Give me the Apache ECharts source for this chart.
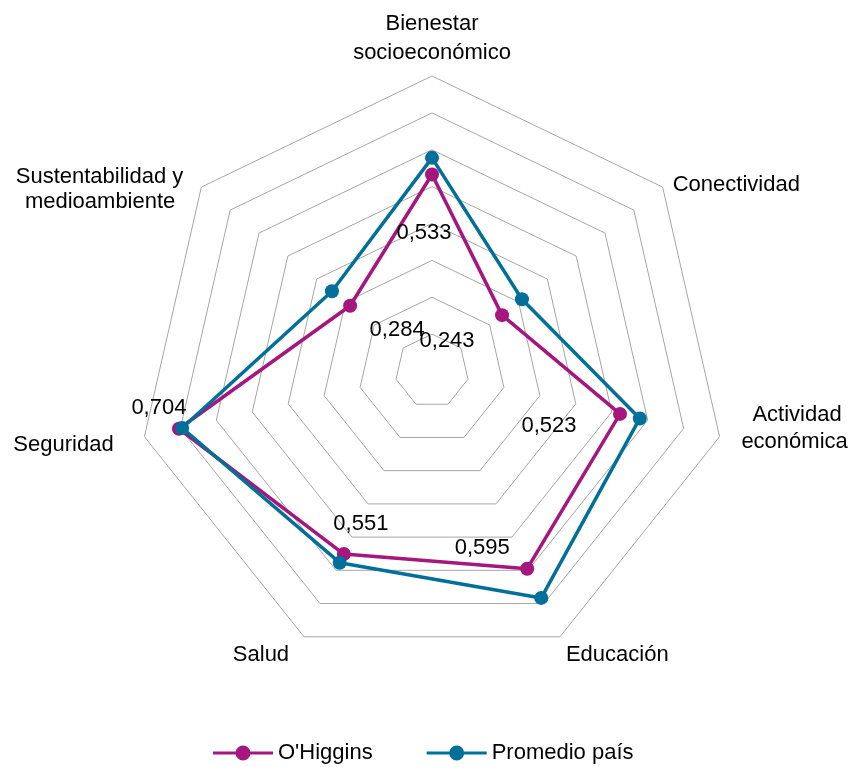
<!DOCTYPE html>
<html>
<head>
<meta charset="utf-8">
<script src="https://cdn.jsdelivr.net/npm/echarts@6/dist/echarts.min.js"></script>
<style>
  html, body { margin: 0; padding: 0; background: #fff; }
  #chart { width: 854px; height: 767px; }
</style>
</head>
<body>
<div id="chart"></div>
<script>
// Dimensions, listed clockwise starting at the top
const categories = [
  'Bienestar\nsocioeconómico',
  'Conectividad',
  'Actividad\neconómica',
  'Educación',
  'Salud',
  'Seguridad',
  'Sustentabilidad y\nmedioambiente'
];
const ohiggins = [0.533, 0.243, 0.523, 0.595, 0.551, 0.704, 0.284];
const promedioPais = [0.578, 0.312, 0.578, 0.683, 0.577, 0.695, 0.347];
const seriesNames = ["O'Higgins", 'Promedio país'];
const axisMax = 0.8;

// Pixel offsets of each O'Higgins value label from its point
const labelOffsets = [[-8, 58], [-55, 26], [-71, 12], [-45, -21], [17, -30], [-20, -21], [47, 24]];

// Axis-name line layout: padding [top, right, bottom, left] and line height of each line,
// plus optional blank spacer lines above / below (height in px)
const nameLayout = [
  { lines: [[[0, 0, 0, 0], 29], [[0, 0, 0, 0], 29]] },
  { lines: [[[7, 0, 0, 3], 29]] },
  { lines: [[[0, 0, 0, 24], 27], [[0, 0, 0, 13], 27]], below: 20 },
  { lines: [[[20, 0, 0, 2], 29]] },
  { lines: [[[20, 11, 0, 0], 29]] },
  { lines: [[[13, 22, 0, 0], 29]] },
  { lines: [[[0, 11, 0, 0], 25], [[0, 19, 0, 0], 25]], above: 16 }
];

const colors = ['#A5177F', '#00709A'];
const FONT = '"Liberation Sans", Arial, sans-serif';

// ECharts lays indicators out counter-clockwise; reorder so they run clockwise
const ccw = arr => [arr[0]].concat(arr.slice(1).reverse());

const fmt = v => v.toFixed(3).replace('.', ',');

const legendIcon = 'path://M0,6L60,6L60,9L0,9Z M37.5,7.5A7.5,7.5 0 1 1 22.5,7.5A7.5,7.5 0 1 1 37.5,7.5Z';

// Rich-text styles for the axis names
const nameRich = {};
nameLayout.forEach((cfg, i) => {
  cfg.lines.forEach(([pad, lh], j) => {
    nameRich['n' + i + '_' + j] = {
      color: '#000', fontSize: 22, fontFamily: FONT, lineHeight: lh, padding: pad
    };
  });
  if (cfg.above) nameRich['a' + i] = { fontSize: 1, lineHeight: cfg.above, height: cfg.above };
  if (cfg.below) nameRich['b' + i] = { fontSize: 1, lineHeight: cfg.below, height: cfg.below };
});

const lineSeries = [ohiggins, promedioPais].map((vals, i) => ({
  name: seriesNames[i],
  type: 'radar',
  symbol: 'circle',
  symbolSize: 14,
  z: 2 + i,
  lineStyle: { color: colors[i], width: 3.5 },
  itemStyle: { color: colors[i] },
  data: [{ value: ccw(vals), name: seriesNames[i] }]
}));

// One transparent series per value label so each label can sit at its own offset
const labelSeries = ohiggins.map((v, k) => ({
  type: 'radar',
  symbol: 'circle',
  symbolSize: 1,
  silent: true,
  z: 10,
  lineStyle: { width: 0, color: 'rgba(0,0,0,0)' },
  itemStyle: { color: 'rgba(0,0,0,0)' },
  label: {
    show: true,
    position: 'inside',
    offset: labelOffsets[k],
    color: '#000',
    fontSize: 22,
    fontFamily: FONT,
    formatter: p => (p.value === v ? fmt(v) : '')
  },
  data: [{ value: ccw(ohiggins) }]
}));

const chart = echarts.init(document.getElementById('chart'), null, { renderer: 'canvas' });
chart.setOption({
  animation: false,
  color: colors,
  legend: {
    data: seriesNames,
    top: 737,
    left: 208,
    itemWidth: 60,
    itemHeight: 15,
    itemGap: 54,
    icon: legendIcon,
    textStyle: { fontSize: 22, fontFamily: FONT, color: '#000' }
  },
  radar: {
    center: [432, 371],
    radius: 295,
    startAngle: 90,
    shape: 'polygon',
    splitNumber: 8,
    indicator: ccw(categories).map(n => ({ name: n, min: 0, max: axisMax })),
    axisName: {
      color: '#000',
      fontSize: 22,
      fontFamily: FONT,
      lineHeight: 29,
      rich: nameRich,
      formatter: name => {
        const i = categories.indexOf(name);
        const cfg = nameLayout[i];
        const rows = name.split('\n').map((line, j) => '{n' + i + '_' + j + '|' + line + '}');
        if (cfg.above) rows.unshift('{a' + i + '| }');
        if (cfg.below) rows.push('{b' + i + '| }');
        return rows.join('\n');
      }
    },
    nameGap: 9,
    axisLine: { show: false },
    axisTick: { show: false },
    axisLabel: { show: false },
    splitArea: { show: false },
    splitLine: { lineStyle: { color: '#a6a6a6', width: 1 } }
  },
  series: lineSeries.concat(labelSeries)
});
</script>
</body>
</html>
